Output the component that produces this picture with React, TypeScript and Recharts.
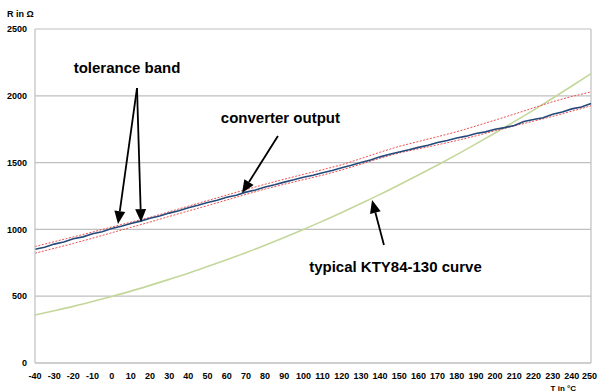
import {
  LineChart,
  Line,
  XAxis,
  YAxis,
  CartesianGrid,
  ReferenceLine,
  ReferenceDot,
} from "recharts";

// temperature grid of the 10-degree series
const temps = [
  -40, -30, -20, -10, 0, 10, 20, 30, 40, 50, 60, 70, 80, 90, 100, 110, 120,
  130, 140, 150, 160, 170, 180, 190, 200, 210, 220, 230, 240, 250,
];

// typical KTY84-130 curve (Ohm)
const ktyCurve = [
  359, 391, 424, 460, 498, 538, 581, 626, 672, 722, 773, 826, 882, 940, 1000,
  1062, 1127, 1194, 1262, 1334, 1407, 1482, 1560, 1640, 1722, 1807, 1893, 1982,
  2073, 2166,
];

// tolerance band, upper and lower edge
const bandUpper = [
  872, 908, 944, 980, 1018, 1054, 1090, 1132, 1174, 1216, 1257, 1298, 1338,
  1376, 1412, 1447, 1484, 1530, 1578, 1622, 1658, 1694, 1731, 1774, 1818, 1863,
  1910, 1956, 1995, 2029,
];
const bandLower = [
  822, 858, 895, 934, 975, 1015, 1055, 1097, 1138, 1178, 1220, 1262, 1302,
  1338, 1372, 1406, 1445, 1488, 1533, 1573, 1603, 1633, 1665, 1700, 1738, 1775,
  1810, 1846, 1885, 1925,
];

// converter output, read every 5 degrees
const fineTemps = [
  -40, -35, -30, -25, -20, -15, -10, -5, 0, 5, 10, 15, 20, 25, 30, 35, 40, 45,
  50, 55, 60, 65, 70, 75, 80, 85, 90, 95, 100, 105, 110, 115, 120, 125, 130,
  135, 140, 145, 150, 155, 160, 165, 170, 175, 180, 185, 190, 195, 200, 205,
  210, 215, 220, 225, 230, 235, 240, 245, 250,
];
const converterOut = [
  852, 866, 890, 905, 930, 944, 968, 983, 1006, 1024, 1044, 1062, 1084, 1100,
  1122, 1140, 1162, 1180, 1202, 1218, 1240, 1256, 1279, 1295, 1317, 1334, 1354,
  1371, 1390, 1406, 1424, 1441, 1461, 1480, 1501, 1520, 1543, 1562, 1580, 1596,
  1614, 1630, 1650, 1666, 1684, 1698, 1718, 1730, 1750, 1762, 1778, 1808, 1822,
  1836, 1862, 1878, 1902, 1916, 1942,
];

const xTicks = temps;
const yTicks = [0, 500, 1000, 1500, 2000, 2500];

const notes = [
  { text: "tolerance band", t: 8, r: 2208 },
  { text: "converter output", t: 88, r: 1834 },
  { text: "typical KTY84-130 curve", t: 148, r: 718 },
];

const arrows = [
  { t1: 13.2, r1: 2058, t2: 3.3, r2: 1040 },
  { t1: 13.2, r1: 2058, t2: 15.3, r2: 1055 },
  { t1: 86.7, r1: 1699, t2: 68, r2: 1272 },
  { t1: 142, r1: 883, t2: 135.8, r2: 1220 },
];

const rows = fineTemps.map((t, i) => {
  const j = temps.indexOf(t);
  return {
    t,
    out: converterOut[i],
    upper: j >= 0 ? bandUpper[j] : null,
    lower: j >= 0 ? bandLower[j] : null,
    kty: j >= 0 ? ktyCurve[j] : null,
  };
});

const font = "'Liberation Sans', Arial, sans-serif";
const tickStyle = { fontSize: 9, fontWeight: "bold", fill: "#000", fontFamily: font };

function XTick(props: any) {
  const { x, y, payload } = props;
  // last label sits against the right edge
  const last = payload.value === xTicks[xTicks.length - 1];
  return (
    <text
      x={last ? x + 6 : x}
      y={y}
      dy="0.71em"
      textAnchor={last ? "end" : "middle"}
      {...tickStyle}
    >
      {payload.value}
    </text>
  );
}

function ArrowShape(props: any) {
  const { x1, y1, x2, y2 } = props;
  const ang = Math.atan2(y2 - y1, x2 - x1);
  const len = 13;
  const half = 5.5;
  const bx = x2 - len * Math.cos(ang);
  const by = y2 - len * Math.sin(ang);
  const px = -Math.sin(ang) * half;
  const py = Math.cos(ang) * half;
  return (
    <g>
      <line x1={x1} y1={y1} x2={bx} y2={by} stroke="#000" strokeWidth={1.8} />
      <polygon
        points={`${x2},${y2} ${bx + px},${by + py} ${bx - px},${by - py}`}
        fill="#000"
      />
    </g>
  );
}

export default function App() {
  return (
    <div
      style={{
        position: "absolute",
        left: 0,
        top: 0,
        width: 597,
        height: 392,
        background: "#fff",
      }}
    >
      <LineChart
        width={597}
        height={392}
        data={rows}
        margin={{ top: 29, right: 6, bottom: 0, left: 0 }}
      >
        <CartesianGrid vertical={false} stroke="#bfbfbf" strokeWidth={1.2} />
        <XAxis
          dataKey="t"
          type="number"
          domain={[-40, 250]}
          ticks={xTicks}
          interval={0}
          height={29}
          tickLine={false}
          tickSize={0}
          tickMargin={10}
          axisLine={{ stroke: "#bfbfbf", strokeWidth: 1.2 }}
          tick={<XTick />}
          label={{
            content: (p: any) => (
              <text
                x={p.viewBox.x + p.viewBox.width - 15}
                y={p.viewBox.y + p.viewBox.height - 1}
                textAnchor="end"
                fontSize={8}
                fontWeight="bold"
                fontFamily={font}
                fill="#000"
              >
                T in °C
              </text>
            ),
          }}
        />
        <YAxis
          type="number"
          domain={[0, 2500]}
          ticks={yTicks}
          interval={0}
          width={35}
          tickLine={false}
          tickSize={0}
          tickMargin={8}
          axisLine={{ stroke: "#bfbfbf", strokeWidth: 1.2 }}
          tick={tickStyle}
          label={{
            content: (p: any) => (
              <text
                x={p.viewBox.x + 7}
                y={p.viewBox.y - 12}
                fontSize={9}
                fontWeight="bold"
                fontFamily={font}
                fill="#000"
              >
                R in Ω
              </text>
            ),
          }}
        />
        <ReferenceLine x={250} stroke="#bfbfbf" strokeWidth={1.2} />
        <Line
          dataKey="kty"
          stroke="#c4d79b"
          strokeWidth={1.6}
          dot={false}
          connectNulls
          type="monotone"
          isAnimationActive={false}
        />
        <Line
          dataKey="upper"
          stroke="#f05050"
          strokeWidth={1}
          strokeDasharray="2 1.5"
          dot={false}
          connectNulls
          isAnimationActive={false}
        />
        <Line
          dataKey="lower"
          stroke="#f05050"
          strokeWidth={1}
          strokeDasharray="2 1.5"
          dot={false}
          connectNulls
          isAnimationActive={false}
        />
        <Line
          dataKey="out"
          stroke="#24497a"
          strokeWidth={1.6}
          dot={false}
          isAnimationActive={false}
        />
        {arrows.map((a, i) => (
          <ReferenceLine
            key={"a" + i}
            segment={[
              { x: a.t1, y: a.r1 },
              { x: a.t2, y: a.r2 },
            ]}
            shape={ArrowShape}
            ifOverflow="visible"
          />
        ))}
        {notes.map((n) => (
          <ReferenceDot
            key={n.text}
            x={n.t}
            y={n.r}
            r={0}
            stroke="none"
            fill="none"
            ifOverflow="visible"
            label={{
              value: n.text,
              position: "center",
              fontSize: 15,
              fontWeight: "bold",
              fill: "#000",
              fontFamily: font,
            }}
          />
        ))}
      </LineChart>
    </div>
  );
}
